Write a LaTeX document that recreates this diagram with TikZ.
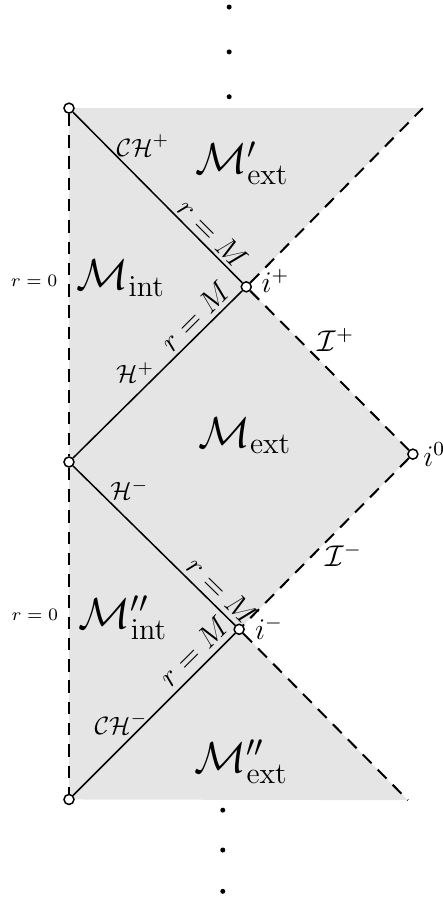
\documentclass[tikz,border=0pt]{standalone}
\usepackage{amsmath,amssymb}
\usetikzlibrary{calc}

\begin{document}
\begin{tikzpicture}[
		horizon/.style={line width=0.6pt},
		scri/.style={line width=0.8pt, dash pattern=on 5pt off 3.5pt},
		endpt/.style={circle, draw, fill=white, line width=0.6pt, inner sep=0pt, minimum size=4pt},
		lab/.style={inner sep=0.3pt},
		region/.style={lab, font=\LARGE},
	]
			\useasboundingbox (-0.969,-6.138) rectangle (5.253,6.489);
			% corners of the shaded region
			\coordinate (T) at (4.97,4.97);
			\coordinate (D) at (4.76,-4.75);
			\fill[gray!20] (0,4.97) -- (T) -- (2.49,2.46) -- (4.83,0.11) -- (2.39,-2.35) -- (D) -- (0,-4.74) -- cycle;
			% end points
			\node[endpt] (A) at (0,4.97) {};
			\node[endpt] (B) at (0,0) {};
			\node[endpt] (C) at (0,-4.74) {};
			\node[endpt] (ip) at (2.49,2.46) {};
			\node[endpt] (io) at (4.83,0.11) {};
			\node[endpt] (im) at (2.39,-2.35) {};
			% r = 0
			\draw[scri] (A) -- (B);
			\draw[scri] (B) -- (C);
			% null infinity
			\draw[scri] (ip) -- (T);
			\draw[scri] (ip) -- (io);
			\draw[scri] (io) -- (im);
			\draw[scri] (im) -- (D);
			% horizons
			\draw[horizon] (A) -- (ip);
			\draw[horizon] (B) -- (ip);
			\draw[horizon] (B) -- (im);
			\draw[horizon] (C) -- (im);
			% labels
			\node[lab, rotate=-45, font=\large] (lab1) at (2.02,3.21) {$r=M$};
			\node[lab, rotate=45, font=\large] (lab2) at (1.77,2.05) {$r=M$};
			\node[lab, rotate=-44.4, font=\large] (lab3) at (2.15,-1.81) {$r=M$};
			\node[lab, rotate=44.8, font=\large] (lab4) at (1.75,-2.66) {$r=M$};
			\node[lab, font=\scriptsize] (r0a) at (-0.49,2.54) {$r=0$};
			\node[lab, font=\scriptsize] (r0b) at (-0.48,-2.15) {$r=0$};
			\node[lab] (chp) at (1.04,4.45) {$\mathcal{CH}^+$};
			\node[lab] (hp) at (0.93,1.26) {$\mathcal{H}^+$};
			\node[lab] (hm) at (0.85,-0.39) {$\mathcal{H}^-$};
			\node[lab] (chm) at (0.73,-3.68) {$\mathcal{CH}^-$};
			\node[lab, font=\large] (Ip) at (3.75,1.71) {$\mathcal{I}^+$};
			\node[lab, font=\large] (Im) at (3.86,-1.31) {$\mathcal{I}^-$};
			\node[lab, font=\large] (lip) at (2.9,2.54) {$i^+$};
			\node[lab, font=\large] (lio) at (5.13,0.11) {$i^0$};
			\node[lab, font=\large] (lim) at (2.81,-2.33) {$i^-$};
			\node[region] (Mext1) at (2.43,4.2) {$\mathcal{M}'_{\mathrm{ext}}$};
			\node[region] (Mint) at (0.73,2.58) {$\mathcal{M}_{\mathrm{int}}$};
			\node[region] (Mext) at (2.47,0.37) {$\mathcal{M}_{\mathrm{ext}}$};
			\node[region] (Mint2) at (0.76,-2.19) {$\mathcal{M}''_{\mathrm{int}}$};
			\node[region] (Mext2) at (2.42,-4.21) {$\mathcal{M}''_{\mathrm{ext}}$};
			% dots
			\foreach \y in {6.39,5.76,5.13} \fill (2.25,\y) circle (1pt);
			\foreach \y in {-4.89,-5.45,-6.03} \fill (2.16,\y) circle (1pt);
		\end{tikzpicture}
\end{document}
